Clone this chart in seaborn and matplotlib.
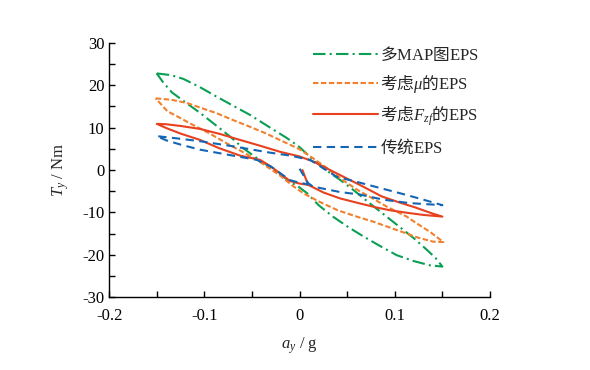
import matplotlib
matplotlib.use('Agg')
import matplotlib.pyplot as plt
from matplotlib.ticker import MultipleLocator, FuncFormatter
import pandas as pd
import seaborn as sns

# datos: lazos de histeresis T_y frente a a_y
green_x = [-0.150, -0.135, -0.122, -0.105, -0.087, -0.070, -0.052, -0.033, -0.013, 0.000, 0.011, 0.025,
           0.043, 0.057, 0.074, 0.088, 0.106, 0.120, 0.134, 0.143, 0.150,
           0.137, 0.120, 0.102, 0.085, 0.068, 0.052, 0.035, 0.020, 0.0075, -0.002, -0.010, -0.025,
           -0.041, -0.059, -0.073, -0.087, -0.104, -0.120, -0.134, -0.143, -0.150]
green_y = [22.8, 22.4, 21.5, 19.6, 17.3, 15.2, 13.0, 10.3, 7.5, 5.4, 3.1, 0.4,
           -2.4, -4.8, -7.9, -10.4, -13.6, -16.1, -18.9, -20.8, -22.8,
           -22.5, -21.5, -20.1, -18.0, -15.8, -13.6, -11.0, -8.3, -5.4, -3.8, -2.8, -0.2,
           2.2, 5.1, 7.9, 10.4, 13.4, 16.0, 18.3, 20.6, 22.8]

orange_x = [-0.151, -0.135, -0.118, -0.104, -0.087, -0.070, -0.052, -0.035, -0.017, 0.000, 0.014, 0.028,
            0.043, 0.060, 0.0775, 0.092, 0.1125, 0.123, 0.137, 0.151,
            0.140, 0.125, 0.1125, 0.095, 0.0775, 0.060, 0.040, 0.020, 0.004, -0.008, -0.020,
            -0.033, -0.045, -0.060, -0.0765, -0.095, -0.115, -0.128, -0.139, -0.151]
orange_y = [16.9, 16.6, 15.8, 14.7, 13.4, 11.8, 10.2, 8.6, 6.7, 4.9, 2.8, 0.6,
            -2.0, -4.6, -6.8, -8.7, -11.0, -12.6, -14.6, -17.0,
            -16.9, -16.0, -15.0, -13.6, -12.2, -11.0, -9.5, -7.4, -5.5, -3.6, -1.4,
            0.6, 2.4, 4.3, 6.3, 8.7, 11.0, 12.6, 13.9, 16.9]

red_x = [0.003, 0.009, 0.025, 0.0425, 0.0635, 0.080, 0.095, 0.113, 0.130, 0.150,
         0.140, 0.121, 0.104, 0.086, 0.064, 0.039, 0.0145, 0.000, -0.0205, -0.041, -0.0625,
         -0.0835, -0.1045, -0.125, -0.140, -0.150,
         -0.140, -0.125, -0.1045, -0.085, -0.0625, -0.0415, -0.030, -0.0205, -0.010, 0.000, 0.009]
red_y = [0.0, -3.5, -5.3, -6.7, -7.9, -8.8, -9.5, -10.1, -10.6, -11.0,
         -10.3, -8.8, -7.6, -6.2, -3.6, -0.8, 2.0, 3.2, 4.3, 5.7, 7.1,
         8.5, 9.7, 10.4, 10.8, 10.9,
         9.9, 8.6, 7.1, 5.2, 3.4, 2.4, 0.8, -0.8, -2.6, -3.2, -3.5]

blue_x = [0.000, 0.009, 0.014, 0.0425, 0.0635, 0.088, 0.115, 0.150,
          0.130, 0.1125, 0.0635, 0.039, 0.025, 0.011, -0.010, -0.031, -0.0415, -0.070, -0.1045, -0.130, -0.150,
          -0.140, -0.125, -0.1045, -0.075, -0.045, -0.030, -0.020, -0.010, 0.000, 0.009]
blue_y = [0.3, -3.1, -3.9, -5.2, -5.8, -7.0, -7.8, -8.3,
          -7.0, -5.9, -3.0, -1.6, 0.4, 2.4, 3.4, 4.1, 4.5, 5.6, 6.8, 7.5, 8.0,
          7.0, 6.0, 4.8, 3.6, 2.4, 0.8, -0.8, -2.4, -3.0, -3.4]

# el chino va dentro de \mathrm (fuente CJK), EPS fuera en Times
labels = [r'$\mathrm{多}$MAP$\mathrm{图}$EPS', r'$\mathrm{考虑}\mu\mathrm{的}$EPS',
          r'$\mathrm{考虑}F_{zf}\mathrm{的}$EPS', r'$\mathrm{传统}$EPS']
colors = ['#0a9f52', '#f0812e', '#e8411f', '#1466b4']
styles = [(0, (6, 2, 1, 2)), (0, (2.6, 1.2)), '-', (0, (4, 2.6))]

sns.set_style('ticks')
plt.rcParams['font.family'] = ['Liberation Serif', 'Noto Sans CJK SC']
plt.rcParams['mathtext.fontset'] = 'custom'
plt.rcParams['mathtext.rm'] = 'Noto Sans CJK SC'
plt.rcParams['mathtext.it'] = 'Liberation Serif:italic'
plt.rcParams['mathtext.bf'] = 'Liberation Serif:bold'
plt.rcParams['axes.unicode_minus'] = False

fig = plt.figure(figsize=(5.9, 3.7), dpi=100)
ax = fig.add_axes([0.185, 0.197, 0.6455, 0.687])

series = [(green_x, green_y), (orange_x, orange_y), (red_x, red_y), (blue_x, blue_y)]
for (xs, ys), lab, col, ls in zip(series, labels, colors, styles):
    df = pd.DataFrame({'a': xs, 'T': ys})
    sns.lineplot(data=df, x='a', y='T', sort=False, estimator=None, ax=ax,
                 color=col, linestyle=ls, linewidth=1.5, label=lab)

ax.set_xlim(-0.2, 0.2)
ax.set_ylim(-30, 30)
ax.xaxis.set_major_locator(MultipleLocator(0.1))
ax.xaxis.set_minor_locator(MultipleLocator(0.05))
ax.yaxis.set_major_locator(MultipleLocator(10))
ax.yaxis.set_minor_locator(MultipleLocator(5))
ax.xaxis.set_major_formatter(FuncFormatter(lambda v, p: f'{v:.1f}' if abs(v) > 1e-9 else '0'))
ax.yaxis.set_major_formatter(FuncFormatter(lambda v, p: f'{v:.0f}'))
ax.tick_params(which='both', direction='in', length=4, width=1, labelsize=12, colors='black')
ax.tick_params(axis='x', pad=8)
for s in ['top', 'right']:
    ax.spines[s].set_visible(False)
for s in ['left', 'bottom']:
    ax.spines[s].set_linewidth(1)
    ax.spines[s].set_color('black')

ax.set_xlabel(r'$a_y$ / g', fontsize=12, labelpad=8)
ax.set_ylabel(r'$T_y$ / Nm', fontsize=12, labelpad=8)

ax.legend(loc='upper left', bbox_to_anchor=(0.505, 0.917), bbox_transform=fig.transFigure,
          frameon=False, fontsize=12, handlelength=3.9, handletextpad=0.1, labelspacing=0.55)

fig.savefig('out.png', dpi=100)
